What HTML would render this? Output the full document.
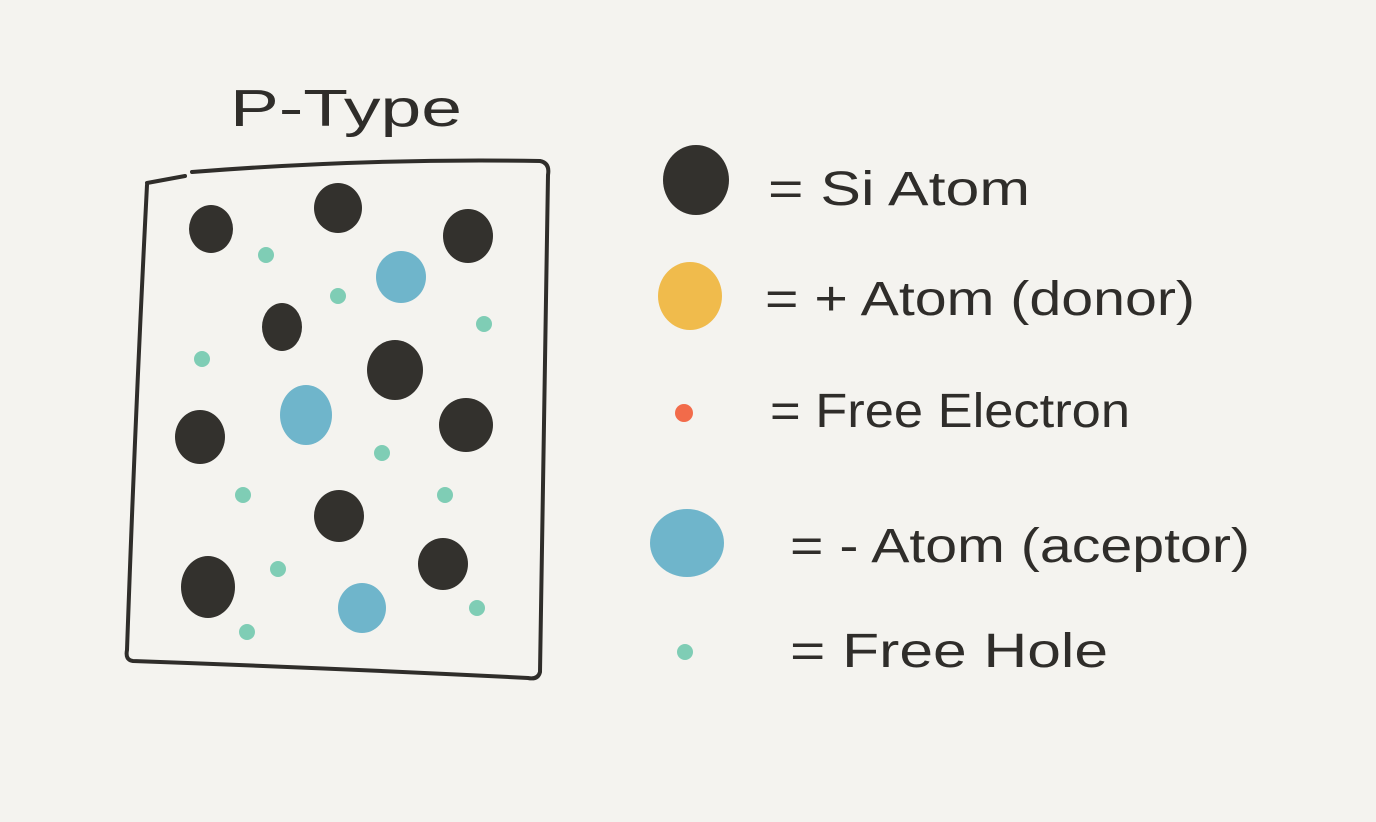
<!DOCTYPE html>
<html><head><meta charset="utf-8"><style>
html,body{margin:0;padding:0;background:#f4f3ef;}
svg{display:block}
text{font-family:"Liberation Sans",sans-serif;fill:#2f2d2a;}
</style></head><body>
<svg width="1376" height="822" viewBox="0 0 1376 822">
<rect width="1376" height="822" fill="#f4f3ef"/>
<text x="230" y="126" font-size="52" textLength="232" lengthAdjust="spacingAndGlyphs">P-Type</text>
<path d="M147,183 L185,176 M192,172 Q370,158 540,161 Q550,163 548,175 L540,672 Q538,680 528,678 Q330,668 133,661 Q125,660 127,650 Q135,420 147,185" fill="none" stroke="#2f2d2a" stroke-width="4" stroke-linecap="round" stroke-linejoin="round"/>
<g fill="#33312d">
<ellipse cx="211" cy="229" rx="22" ry="24"/>
<ellipse cx="338" cy="208" rx="24" ry="25"/>
<ellipse cx="468" cy="236" rx="25" ry="27"/>
<ellipse cx="282" cy="327" rx="20" ry="24"/>
<ellipse cx="395" cy="370" rx="28" ry="30"/>
<ellipse cx="200" cy="437" rx="25" ry="27"/>
<ellipse cx="466" cy="425" rx="27" ry="27"/>
<ellipse cx="339" cy="516" rx="25" ry="26"/>
<ellipse cx="208" cy="587" rx="27" ry="31"/>
<ellipse cx="443" cy="564" rx="25" ry="26"/>
</g>
<g fill="#6fb5cb">
<ellipse cx="401" cy="277" rx="25" ry="26"/>
<ellipse cx="306" cy="415" rx="26" ry="30"/>
<ellipse cx="362" cy="608" rx="24" ry="25"/>
</g>
<g fill="#7fcdb5">
<circle cx="266" cy="255" r="8"/><circle cx="338" cy="296" r="8"/><circle cx="484" cy="324" r="8"/>
<circle cx="202" cy="359" r="8"/><circle cx="382" cy="453" r="8"/><circle cx="243" cy="495" r="8"/>
<circle cx="445" cy="495" r="8"/><circle cx="278" cy="569" r="8"/><circle cx="247" cy="632" r="8"/>
<circle cx="477" cy="608" r="8"/>
</g>
<g>
<ellipse cx="696" cy="180" rx="33" ry="35" fill="#33312d"/>
<text x="768" y="205" font-size="48" textLength="262" lengthAdjust="spacingAndGlyphs">= Si Atom</text>
<ellipse cx="690" cy="296" rx="32" ry="34" fill="#f0bb4c"/>
<text x="765" y="315" font-size="48" textLength="430" lengthAdjust="spacingAndGlyphs">= + Atom (donor)</text>
<circle cx="684" cy="413" r="9" fill="#f26b4a"/>
<text x="770" y="427" font-size="48" textLength="360" lengthAdjust="spacingAndGlyphs">= Free Electron</text>
<ellipse cx="687" cy="543" rx="37" ry="34" fill="#6fb5cb"/>
<text x="790" y="562" font-size="48" textLength="460" lengthAdjust="spacingAndGlyphs">=  - Atom (aceptor)</text>
<circle cx="685" cy="652" r="8" fill="#7fcdb5"/>
<text x="790" y="667" font-size="48" textLength="318" lengthAdjust="spacingAndGlyphs">=  Free Hole</text>
</g>
</svg>
</body></html>
